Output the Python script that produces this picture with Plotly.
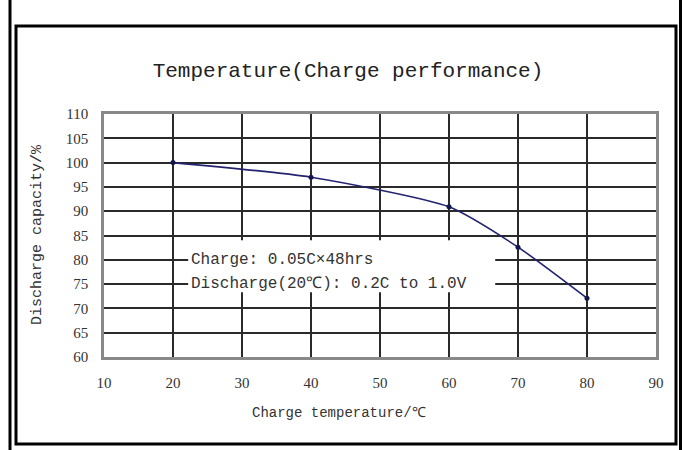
import plotly.graph_objects as go

# ---- data ----
charge_temp = [20, 40, 60, 70, 80]
discharge_capacity = [100.0, 97.0, 90.9, 82.6, 72.1]
x_ticks = [10, 20, 30, 40, 50, 60, 70, 80, 90]
y_ticks = [60, 65, 70, 75, 80, 85, 90, 95, 100, 105, 110]
note_lines = ["Charge: 0.05C×48hrs", "Discharge(20℃): 0.2C to 1.0V"]
note_y = [80, 75]

W, H = 684, 450
L, R, T, B = 104, 28, 114, 93
PW, PH = W - L - R, H - T - B

def px(x):
    return (x - L) / PW

def py(y):
    return (H - B - y) / PH

FONT = "Liberation Mono, DejaVu Sans Mono, monospace"
SERIF = "Liberation Serif, DejaVu Serif, serif"
TXT = "#333"

fig = go.Figure()
fig.add_trace(go.Scatter(
    x=charge_temp, y=discharge_capacity, mode="lines+markers",
    line=dict(color="#23236e", width=1.6, shape="spline", smoothing=0.6),
    marker=dict(color="#15154d", size=5),
    showlegend=False, hoverinfo="skip",
))

shapes = []
# white box behind note text
shapes.append(dict(type="rect", xref="x", yref="y", x0=22.2, x1=66.7, y0=73.3, y1=84.0,
                   fillcolor="white", line=dict(width=0), layer="above"))
# outer frame lines
for xv in (10, 680.5):
    shapes.append(dict(type="line", xref="paper", yref="paper",
                       x0=px(xv), x1=px(xv), y0=py(0), y1=py(450),
                       line=dict(color="black", width=3)))
shapes.append(dict(type="rect", xref="paper", yref="paper",
                   x0=px(16), x1=px(676), y0=py(26), y1=py(444),
                   line=dict(color="black", width=3)))

annotations = []
for txt, yv in zip(note_lines, note_y):
    annotations.append(dict(x=22.3, y=yv, xref="x", yref="y", text=txt,
                            showarrow=False, xanchor="left", yanchor="middle",
                            font=dict(family=FONT, size=16, color=TXT)))
# axis titles
annotations.append(dict(x=px(339), y=py(413), xref="paper", yref="paper",
                        text="Charge temperature/℃", showarrow=False,
                        xanchor="center", yanchor="middle",
                        font=dict(family=FONT, size=14, color=TXT)))
annotations.append(dict(x=px(37), y=py(235), xref="paper", yref="paper",
                        text="Discharge capacity/%", showarrow=False, textangle=-90,
                        xanchor="center", yanchor="middle",
                        font=dict(family=FONT, size=15, color=TXT)))

fig.update_layout(
    width=W, height=H,
    margin=dict(l=L, r=R, t=T, b=B, autoexpand=False),
    paper_bgcolor="white", plot_bgcolor="white",
    title=dict(text="Temperature(Charge performance)", x=348 / W, xref="container",
               xanchor="center", y=1 - 70 / H, yref="container", yanchor="middle",
               font=dict(family=FONT, size=21, color="#222")),
    xaxis=dict(range=[10, 90], tickvals=x_ticks, showgrid=True, gridcolor="#2a2a2a",
               gridwidth=1.5, zeroline=False, showline=True, linecolor="#888",
               linewidth=2.5, mirror=True, ticks="", ticklabelstandoff=10,
               tickfont=dict(family=SERIF, size=15, color=TXT), automargin=False),
    yaxis=dict(range=[60, 110], tickvals=y_ticks, showgrid=True, gridcolor="#2a2a2a",
               gridwidth=1.5, zeroline=False, showline=True, linecolor="#888",
               linewidth=2.5, mirror=True, ticks="", ticklabelstandoff=10,
               tickfont=dict(family=SERIF, size=15, color=TXT), automargin=False),
    shapes=shapes,
    annotations=annotations,
)

fig.write_html("out.html", config={"displayModeBar": False},
               post_script="document.body.style.margin='0';document.body.style.overflow='hidden';")
